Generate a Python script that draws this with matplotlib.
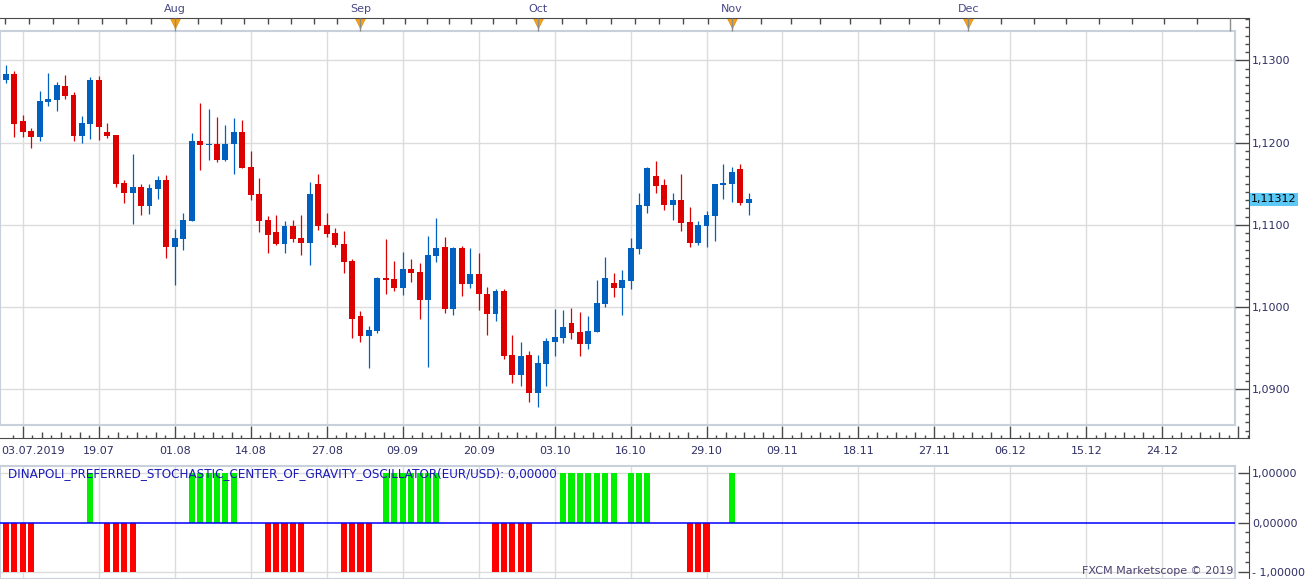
import numpy as np
import matplotlib
matplotlib.use('Agg')
import matplotlib.pyplot as plt
import matplotlib.transforms as mtransforms
from matplotlib.ticker import MultipleLocator, FuncFormatter, FixedLocator, FixedFormatter

# EUR/USD daily candles, 04.07.2019 - 05.11.2019
opens = [1.12764, 1.12834, 1.12262, 1.12141, 1.12072, 1.12497, 1.12521, 1.12688, 1.12578, 1.12084,
         1.12230, 1.12761, 1.12129, 1.12092, 1.11509, 1.11391, 1.11461, 1.11233, 1.11440, 1.11546,
         1.10735, 1.10832, 1.11051, 1.12019, 1.11975, 1.11983, 1.11792, 1.11987, 1.12129, 1.11704,
         1.11376, 1.11060, 1.10914, 1.10772, 1.10987, 1.10841, 1.10784, 1.11497, 1.10999, 1.10902,
         1.10768, 1.10561, 1.09897, 1.09654, 1.09715, 1.10359, 1.10346, 1.10237, 1.10468, 1.10431,
         1.10091, 1.10626, 1.10735, 1.09982, 1.10719, 1.10286, 1.10404, 1.10161, 1.09921, 1.10197,
         1.09419, 1.09180, 1.09419, 1.08961, 1.09314, 1.09581, 1.09630, 1.09808, 1.09699, 1.09557,
         1.09702, 1.10043, 1.10294, 1.10237, 1.10322, 1.10711, 1.11233, 1.11594, 1.11485, 1.11246,
         1.11303, 1.11035, 1.10784, 1.10990, 1.11112, 1.11489, 1.11501, 1.11679, 1.11270]
highs = [1.12943, 1.12870, 1.12335, 1.12177, 1.12627, 1.12846, 1.12736, 1.12821, 1.12615, 1.12323,
         1.12797, 1.12809, 1.12238, 1.12092, 1.11542, 1.11862, 1.11497, 1.11497, 1.11594, 1.11606,
         1.10950, 1.11145, 1.12117, 1.12481, 1.12408, 1.12311, 1.12214, 1.12299, 1.12275, 1.11898,
         1.11570, 1.11108, 1.11120, 1.11047, 1.11060, 1.11120, 1.11521, 1.11619, 1.11145, 1.10962,
         1.10926, 1.10586, 1.09958, 1.09775, 1.10371, 1.10829, 1.10565, 1.10674, 1.10589, 1.10541,
         1.10869, 1.11088, 1.10857, 1.10735, 1.10744, 1.10719, 1.10659, 1.10246, 1.10221, 1.10221,
         1.09662, 1.09577, 1.09468, 1.09419, 1.09626, 1.09978, 1.09966, 1.09990, 1.09942, 1.09893,
         1.10331, 1.10610, 1.10416, 1.10452, 1.10841, 1.11388, 1.11704, 1.11776, 1.11558, 1.11388,
         1.11619, 1.11218, 1.11047, 1.11169, 1.11497, 1.11740, 1.11704, 1.11740, 1.11388]
lows = [1.12728, 1.12072, 1.12072, 1.11938, 1.12023, 1.12448, 1.12388, 1.12533, 1.12023, 1.11999,
        1.12047, 1.12035, 1.12060, 1.11464, 1.11270, 1.11015, 1.11124, 1.11136, 1.11318, 1.10602,
        1.10270, 1.10699, 1.11051, 1.11671, 1.11792, 1.11768, 1.11780, 1.11622, 1.11695, 1.11306,
        1.10917, 1.10662, 1.10760, 1.10662, 1.10796, 1.10638, 1.10517, 1.10942, 1.10857, 1.10735,
        1.10419, 1.09630, 1.09581, 1.09265, 1.09690, 1.10164, 1.10201, 1.10152, 1.10310, 1.09860,
        1.09277, 1.10553, 1.09933, 1.09909, 1.10140, 1.10237, 1.09970, 1.09666, 1.09836, 1.09374,
        1.09083, 1.09046, 1.08852, 1.08791, 1.09046, 1.09411, 1.09569, 1.09617, 1.09411, 1.09496,
        1.09702, 1.10006, 1.10128, 1.09909, 1.10225, 1.10650, 1.11148, 1.11391, 1.11185, 1.11063,
        1.10930, 1.10735, 1.10760, 1.10735, 1.10808, 1.11318, 1.11282, 1.11246, 1.11124]
closes = [1.12834, 1.12230, 1.12132, 1.12072, 1.12505, 1.12533, 1.12700, 1.12570, 1.12084, 1.12238,
          1.12761, 1.12193, 1.12084, 1.11501, 1.11391, 1.11461, 1.11233, 1.11448, 1.11546, 1.10735,
          1.10841, 1.11060, 1.12019, 1.11975, 1.11983, 1.11792, 1.11983, 1.12129, 1.11695, 1.11367,
          1.11051, 1.10881, 1.10772, 1.10987, 1.10832, 1.10784, 1.11376, 1.10990, 1.10893, 1.10760,
          1.10553, 1.09860, 1.09654, 1.09727, 1.10359, 1.10334, 1.10237, 1.10468, 1.10419, 1.10091,
          1.10638, 1.10723, 1.09982, 1.10723, 1.10286, 1.10404, 1.10164, 1.09921, 1.10197, 1.09411,
          1.09180, 1.09407, 1.08961, 1.09322, 1.09589, 1.09638, 1.09760, 1.09690, 1.09557, 1.09711,
          1.10051, 1.10355, 1.10237, 1.10331, 1.10719, 1.11242, 1.11691, 1.11476, 1.11246, 1.11303,
          1.11027, 1.10784, 1.10999, 1.11120, 1.11497, 1.11509, 1.11643, 1.11270, 1.11312]

# oscillator: +1 green, -1 red, 0 nothing
osc = [-1, -1, -1, -1, 0, 0, 0, 0, 0, 0,
       1, 0, -1, -1, -1, -1, 0, 0, 0, 0,
       0, 0, 1, 1, 1, 1, 1, 1, 0, 0,
       0, -1, -1, -1, -1, -1, 0, 0, 0, 0,
       -1, -1, -1, -1, 0, 1, 1, 1, 1, 1,
       1, 1, 0, 0, 0, 0, 0, 0, -1, -1,
       -1, -1, -1, 0, 0, 0, 1, 1, 1, 1,
       1, 1, 1, 0, 1, 1, 1, 0, 0, 0,
       0, -1, -1, -1, 0, 0, 1, 0, 0]

# x axis (bar slots, future slots continue to the right)
date_labels = ['19.07', '01.08', '14.08', '27.08', '09.09', '20.09', '03.10', '16.10',
               '29.10', '09.11', '18.11', '27.11', '06.12', '15.12', '24.12']
date_slots = [11, 20, 29, 38, 47, 56, 65, 74, 83, 92, 101, 110, 119, 128, 137]
first_label = '03.07.2019'
month_names = ['Aug', 'Sep', 'Oct', 'Nov', 'Dec']
month_slots = [20, 42, 63, 86, 114]
month_edges = [-3, 20, 42, 63, 86, 114, 145]   # Jul ... Jan

W, H = 1307, 579
X0, DX = 6.0, 8.44          # pixel of slot 0, pixels per slot
P_REF, Y_REF, PPU = 1.13, 60.3, 8230.0   # price scale calibration

def box(x0, y0, x1, y1):
    return [x0 / W, 1 - y1 / H, (x1 - x0) / W, (y1 - y0) / H]

def slot(px):
    return (px - X0) / DX

def price_at(py):
    return P_REF - (py - Y_REF) / PPU

axis_col = '#4a4a4a'
txt_col = '#2f2f66'
grid_col = '#dcdcdc'
frame_col = '#c8d0dc'
up_col = '#0060c0'
dn_col = '#dc0000'

fig = plt.figure(figsize=(W / 100, H / 100), dpi=100)

idx = np.arange(len(opens))
o = np.array(opens); c = np.array(closes)
hi = np.array(highs); lo = np.array(lows)
cols = [up_col if cc >= oo else dn_col for oo, cc in zip(o, c)]

grid_slots = list(range(2, 147, 9))

# main price panel
ax = fig.add_axes(box(0, 31, 1235, 425))
ax.vlines(idx, lo, hi, colors=cols, lw=0.9, zorder=2)
body_h = np.maximum(np.abs(c - o), 0.00012)
ax.bar(idx, body_h, bottom=np.minimum(o, c), width=0.7, color=cols, linewidth=0, zorder=3)
ax.set_xticks(grid_slots)
ax.yaxis.set_major_locator(MultipleLocator(0.01))
ax.grid(True, color=grid_col, lw=1.0)
ax.set_axisbelow(True)
ax.tick_params(length=0, labelbottom=False, labelleft=False)
for s in ax.spines.values():
    s.set_color(frame_col)
    s.set_linewidth(1.5)
ax.set_xlim(slot(0), slot(1235))
ax.set_ylim(price_at(425), price_at(31))

# price scale on the right
ax_scale = fig.add_axes(box(1235, 18, 1249, 438))
ax_scale.patch.set_alpha(0)
for s in ['left', 'top', 'bottom']:
    ax_scale.spines[s].set_visible(False)
ax_scale.spines['right'].set_color(axis_col)
ax_scale.set_xticks([])
ax_scale.yaxis.tick_right()
ax_scale.yaxis.set_major_locator(MultipleLocator(0.01))
ax_scale.yaxis.set_minor_locator(MultipleLocator(0.001))
ax_scale.yaxis.set_major_formatter(FuncFormatter(lambda v, p: f'{v:.4f}'.replace('.', ',')))
ax_scale.tick_params(axis='y', which='major', direction='in', length=10, width=1,
                     color=axis_col, labelsize=8, labelcolor=txt_col, pad=2)
ax_scale.tick_params(axis='y', which='minor', direction='in', length=3, width=1, color=axis_col)
ax_scale.set_ylim(price_at(438), price_at(18))
tr = mtransforms.blended_transform_factory(ax_scale.transAxes, ax_scale.transData)
ax_scale.text(1.16, c[-1], f'{c[-1]:.5f}'.replace('.', ','), transform=tr, ha='left', va='center',
              fontsize=8, color='black', clip_on=False,
              bbox=dict(boxstyle='square,pad=0.12', fc='#5bc8f5', ec='none'))

# month strip on top
ax_top = fig.add_axes(box(0, 0, 1249, 18))
ax_top.patch.set_alpha(0)
for s in ['left', 'top', 'right']:
    ax_top.spines[s].set_visible(False)
ax_top.spines['bottom'].set_color(axis_col)
top_minor = []
for a, b in zip(month_edges[:-1], month_edges[1:]):
    top_minor += list(np.linspace(a, b, 9)[1:-1])
ax_top.set_xticks(month_edges)
ax_top.set_xticks(top_minor, minor=True)
ax_top.set_yticks([])
ax_top.tick_params(axis='x', which='major', direction='out', length=9.5, width=1,
                   color='#8c8c8c', labelbottom=False)
ax_top.tick_params(axis='x', which='minor', direction='out', length=4.3, width=1, color=axis_col)
ax_top.set_axisbelow(False)
ax_top.plot(month_slots, [-0.3] * len(month_slots), 'v', ms=6.5, mfc='#f7a21b',
            mec='#e58e0a', mew=0.6, clip_on=False, zorder=2)
for m, name in zip(month_slots, month_names):
    ax_top.text(m, 0.5, name, ha='center', va='center', fontsize=8, color='#484888')
ax_top.set_xlim(slot(0), slot(1249))
ax_top.set_ylim(0, 1)

# date strip under the price panel
ax_bot = fig.add_axes(box(0, 425, 1249, 438))
ax_bot.patch.set_alpha(0)
for s in ['left', 'top', 'right']:
    ax_bot.spines[s].set_visible(False)
ax_bot.spines['bottom'].set_color(axis_col)
quarter = [g + 9 * j / 8 for g in grid_slots for j in (2, 4, 6)]
eighth = [g + 9 * j / 8 for g in [-7] + grid_slots for j in (1, 3, 5, 7)]
ax_bot.set_xticks(grid_slots)
ax_bot.set_xticks(quarter, minor=True)
ax_bot.set_yticks([])
ax_bot.tick_params(axis='x', which='major', direction='in', length=8.6, width=1,
                   color=axis_col, labelbottom=False)
ax_bot.tick_params(axis='x', which='minor', direction='in', length=4.3, width=1, color=axis_col)
ax_bot.set_xlim(slot(0), slot(1249))
ax_bot.set_ylim(0, 1)
ax_bot2 = ax_bot.twiny()
ax_bot2.xaxis.tick_bottom()
ax_bot2.set_xticks(eighth)
ax_bot2.tick_params(axis='x', direction='in', length=2.4, width=1, color=axis_col, labelbottom=False)
for s in ax_bot2.spines.values():
    s.set_visible(False)
ax_bot2.set_xlim(slot(0), slot(1249))
trb = mtransforms.blended_transform_factory(ax_bot.transData, ax_bot.transAxes)
for pos, lab in zip(date_slots, date_labels):
    ax_bot.text(pos, -1.0, lab, transform=trb, ha='center', va='center', fontsize=8, color=txt_col)
ax_bot.text(slot(1), -1.0, first_label, transform=trb, ha='left', va='center', fontsize=8, color=txt_col)

# oscillator panel
OSC_LIM = 1.141
ax_osc = fig.add_axes(box(0, 466, 1235, 579))
osc_cols = ['#00ee00' if v > 0 else '#ff0000' for v in osc]
ax_osc.bar(idx, osc, width=0.72, color=osc_cols, linewidth=0, zorder=2)
ax_osc.axhline(0, color='#0000ff', lw=1.1, zorder=3)
ax_osc.set_xticks(grid_slots)
ax_osc.set_yticks([-1, 1])
ax_osc.grid(True, color=grid_col, lw=1.0)
ax_osc.set_axisbelow(True)
ax_osc.tick_params(length=0, labelbottom=False, labelleft=False)
for s in ax_osc.spines.values():
    s.set_color(frame_col)
    s.set_linewidth(1.5)
ax_osc.set_xlim(slot(0), slot(1235))
ax_osc.set_ylim(-OSC_LIM, OSC_LIM)
ax_osc.text(8 / 1235, (579 - 474) / 113,
            'DINAPOLI_PREFERRED_STOCHASTIC_CENTER_OF_GRAVITY_OSCILLATOR(EUR/USD): 0,00000',
            transform=ax_osc.transAxes, ha='left', va='center', fontsize=8.65, color='#1a1ab8', zorder=5)
ax_osc.text(1233 / 1235, (579 - 571) / 113, 'FXCM Marketscope © 2019',
            transform=ax_osc.transAxes, ha='right', va='center', fontsize=8, color='#4b4070', zorder=5)

# oscillator scale
ax_oscale = fig.add_axes(box(1235, 466, 1249, 579))
ax_oscale.patch.set_alpha(0)
for s in ['left', 'top', 'bottom']:
    ax_oscale.spines[s].set_visible(False)
ax_oscale.spines['right'].set_color(axis_col)
ax_oscale.set_xticks([])
ax_oscale.yaxis.tick_right()
ax_oscale.yaxis.set_major_locator(FixedLocator([-1, 0, 1]))
ax_oscale.yaxis.set_major_formatter(FixedFormatter(['- 1,00000', '0,00000', '1,00000']))
ax_oscale.yaxis.set_minor_locator(MultipleLocator(0.2))
ax_oscale.tick_params(axis='y', which='major', direction='in', length=8, width=1,
                      color=axis_col, labelsize=8, labelcolor=txt_col, pad=2)
ax_oscale.tick_params(axis='y', which='minor', direction='in', length=3, width=1, color=axis_col)
ax_oscale.set_ylim(-OSC_LIM, OSC_LIM)

fig.savefig('out.png', dpi=100)
